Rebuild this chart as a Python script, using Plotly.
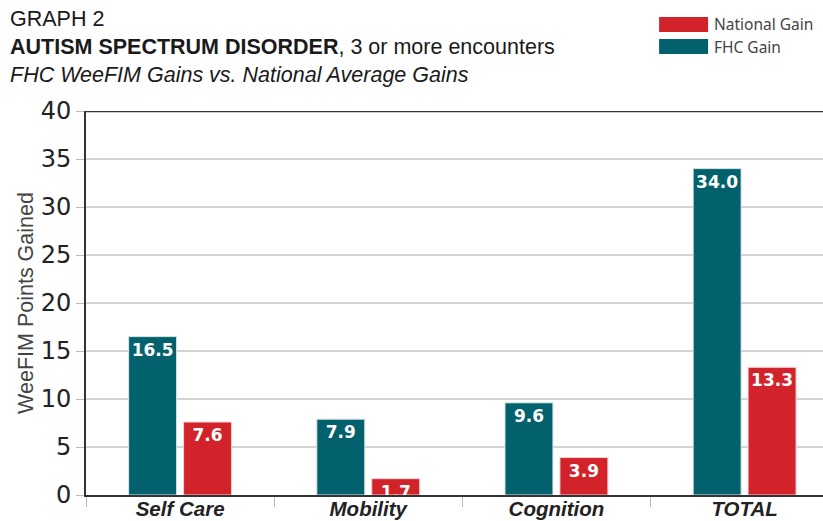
import plotly.graph_objects as go

categories = ["Self Care", "Mobility", "Cognition", "TOTAL"]
fhc_gain = [16.5, 7.9, 9.6, 34.0]
national_gain = [7.6, 1.7, 3.9, 13.3]
y_ticks = [0, 5, 10, 15, 20, 25, 30, 35, 40]

TEAL = "#02616C"
RED = "#D2232A"
W, H = 823, 521
L, T, B = 85.5, 111, 26
PW = W - L
PH = H - T - B


def px(x):
    return (x - L) / PW


def py(y):
    return (H - B - y) / PH


label_font = dict(family="DejaVu Sans", size=17, color="white", weight="bold")

fig = go.Figure()
fig.add_trace(go.Bar(
    x=categories, y=fhc_gain, name="FHC Gain",
    marker=dict(color=TEAL, line=dict(color="#d9e6e8", width=1)),
    text=[f"{v:.1f}" for v in fhc_gain], textposition="inside",
    insidetextanchor="end", textangle=0, constraintext="none",
    textfont=label_font, cliponaxis=True, showlegend=False,
))
fig.add_trace(go.Bar(
    x=categories, y=national_gain, name="National Gain",
    marker=dict(color=RED, line=dict(color="#f3d3d4", width=1)),
    text=[f"{v:.1f}" for v in national_gain], textposition="inside",
    insidetextanchor="end", textangle=0, constraintext="none",
    textfont=label_font, cliponaxis=True, showlegend=False,
))

fig.update_layout(
    width=W, height=H,
    margin=dict(l=L, r=0, t=T, b=B, pad=0, autoexpand=False),
    paper_bgcolor="white", plot_bgcolor="white",
    barmode="group", bargap=0.416, bargroupgap=0.127,
    font=dict(family="Liberation Sans", color="#222"),
    xaxis=dict(
        type="category", range=[-0.5, -0.5 + PW / 188.3],
        showline=True, linecolor="#333", linewidth=2,
        ticks="outside", tickson="boundaries", ticklen=10, tickcolor="#bbb",
        tickwidth=1, ticklabelstandoff=-6,
        tickfont=dict(family="Liberation Sans", size=20.5, color="#222",
                      weight="bold", style="italic"),
        showgrid=False, fixedrange=True, automargin=False,
    ),
    yaxis=dict(
        range=[0, 40], tickvals=y_ticks,
        showline=True, linecolor="#333", linewidth=2,
        ticks="outside", ticklen=8, tickcolor="#bbb", tickwidth=1,
        tickfont=dict(family="DejaVu Sans", size=24, color="#222"),
        showgrid=True, gridcolor="#d4d4d4", gridwidth=1.5,
        zeroline=False, automargin=False,
        title=dict(text="WeeFIM Points Gained", standoff=1,
                   font=dict(family="Liberation Sans", size=21.5, color="#444")),
    ),
)

# top frame line at 40
fig.add_shape(type="line", xref="paper", yref="y", x0=0, x1=1, y0=40, y1=40,
              line=dict(color="#333", width=2.5))

# titles
title_lines = [
    ("GRAPH 2", 21.5, 19),
    ("<b>AUTISM SPECTRUM DISORDER</b>, 3 or more encounters", 21.5, 47),
    ("<i>FHC WeeFIM Gains vs. National Average Gains</i>", 21.5, 75),
]
for text, size, ymid in title_lines:
    fig.add_annotation(text=text, xref="paper", yref="paper", x=px(7), y=py(ymid),
                       xanchor="left", yanchor="middle", showarrow=False,
                       font=dict(family="Liberation Sans", size=size, color="#1a1a1a"))

# legend (manual, matching wide swatches)
legend_items = [("National Gain", RED, 17, 32), ("FHC Gain", TEAL, 39, 54)]
for name, color, y0, y1 in legend_items:
    fig.add_shape(type="rect", xref="paper", yref="paper",
                  x0=px(659), x1=px(708), y0=py(y1), y1=py(y0),
                  line=dict(width=0), fillcolor=color)
    fig.add_annotation(text=name, xref="paper", yref="paper", x=px(712),
                       y=py((y0 + y1) / 2), xanchor="left", yanchor="middle",
                       showarrow=False,
                       font=dict(family="Noto Sans", size=15.5, color="#444"))

fig.write_html("out.html", config={"displayModeBar": False},
               post_script="document.body.style.margin='0';")
